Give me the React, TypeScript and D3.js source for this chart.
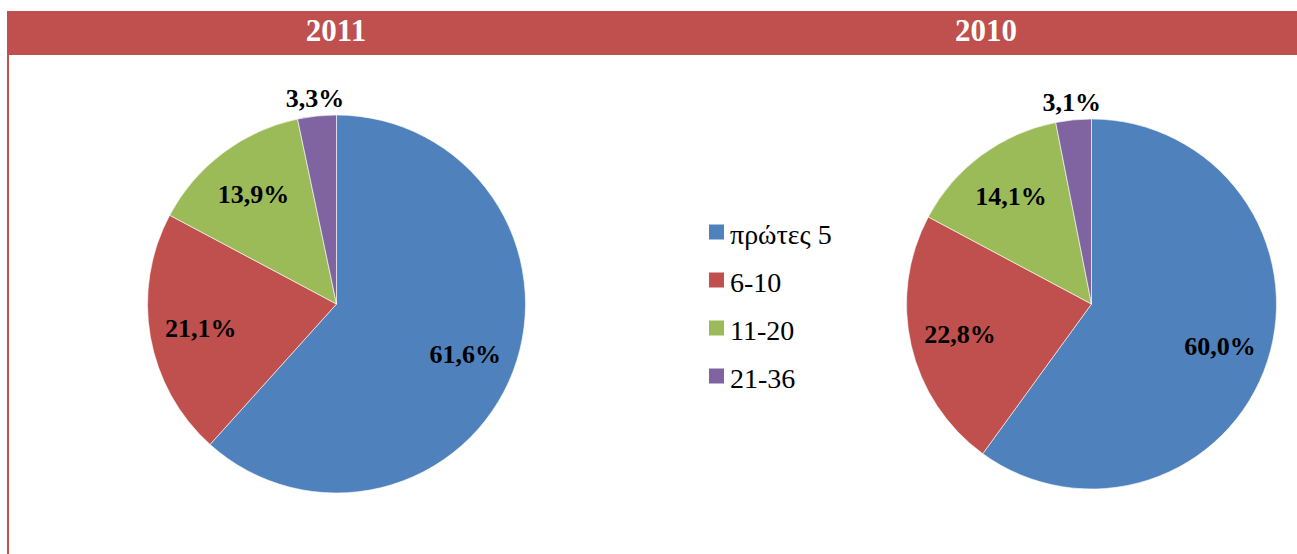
import React from "react";
import * as d3 from "d3";

const categories = ["πρώτες 5", "6-10", "11-20", "21-36"];
const values2011 = [61.6, 21.1, 13.9, 3.3];
const values2010 = [60.0, 22.8, 14.1, 3.1];
const years = ["2011", "2010"];
const colors = ["#4F81BD", "#C0504D", "#9BBB59", "#8064A2"];

const W = 1297;
const H = 554;
const FONT = "Liberation Serif";

const fmt = (v: number) => v.toFixed(1).replace(".", ",") + "%";

function Pie({ values, cx, cy, r }: { values: number[]; cx: number; cy: number; r: number }) {
  const pie = d3.pie<number>().sort(null).value((d) => d);
  const arcs = pie(values);
  const arc = d3.arc<d3.PieArcDatum<number>>().innerRadius(0).outerRadius(r);
  return (
    <g transform={`translate(${cx},${cy})`}>
      {arcs.map((a, i) => (
        <path key={i} d={arc(a) || ""} fill={colors[i]} stroke="#ffffff" strokeWidth={0.6} />
      ))}
      {arcs.map((a, i) => {
        const mid = (a.startAngle + a.endAngle) / 2;
        const small = a.endAngle - a.startAngle < 0.4;
        const lr = small ? r + 18 : r * 0.73;
        const x = Math.sin(mid) * lr;
        const y = -Math.cos(mid) * lr;
        return (
          <text
            key={"t" + i}
            x={x}
            y={y}
            dy="0.35em"
            textAnchor="middle"
            fontFamily={FONT}
            fontWeight="bold"
            fontSize={26}
            fill="#000"
          >
            {fmt(a.data)}
          </text>
        );
      })}
    </g>
  );
}

export default function App() {
  const legendY = d3.scalePoint<string>().domain(categories).range([234, 378]);
  return (
    <svg width={W} height={H} style={{ position: "absolute", left: 0, top: 0, background: "#fff" }}>
      <rect x={0} y={0} width={W} height={H} fill="#fff" />
      <rect x={7} y={11} width={W - 7} height={44} fill="#C0504D" />
      <line x1={8} y1={55} x2={8} y2={H} stroke="#C0504D" strokeWidth={2} />
      <text x={336} y={41} textAnchor="middle" fontFamily={FONT} fontWeight="bold" fontSize={31} fill="#fff">
        {years[0]}
      </text>
      <text x={986} y={41} textAnchor="middle" fontFamily={FONT} fontWeight="bold" fontSize={31} fill="#fff">
        {years[1]}
      </text>
      <Pie values={values2011} cx={336.5} cy={304} r={189} />
      <Pie values={values2010} cx={1091.5} cy={304} r={185} />
      {categories.map((c, i) => {
        const y = legendY(c) as number;
        return (
          <g key={c}>
            <rect x={709} y={y - 9.5} width={15} height={15} fill={colors[i]} />
            <text x={730} y={y} dy="0.35em" fontFamily={FONT} fontSize={28} fill="#000">
              {c}
            </text>
          </g>
        );
      })}
    </svg>
  );
}
